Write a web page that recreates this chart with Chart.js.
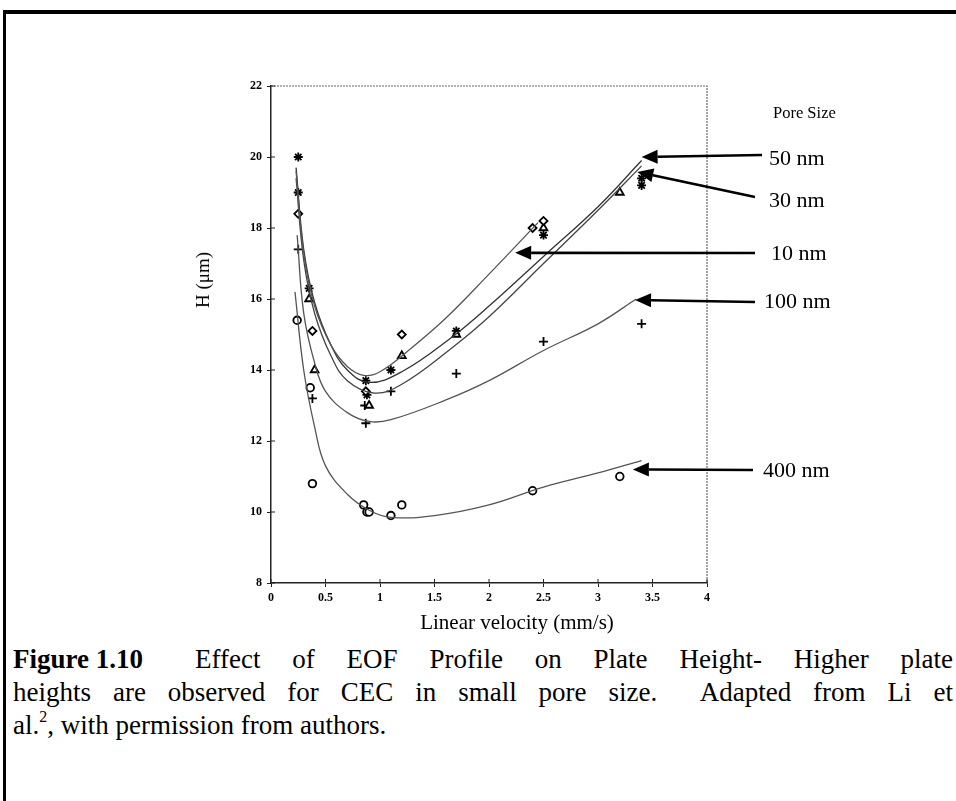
<!DOCTYPE html>
<html>
<head>
<meta charset="utf-8">
<script src="https://cdn.jsdelivr.net/npm/chart.js@4.4.1/dist/chart.umd.min.js"></script>
<style>
  body { margin: 0; background: #fff; width: 956px; height: 801px; overflow: hidden; position: relative; font-family: 'Liberation Serif', 'DejaVu Serif', serif; }
  #frame { position: absolute; left: 3px; top: 10px; width: 1000px; height: 900px; border-top: 4px solid #000; border-left: 3px solid #000; }
  #wrap { position: absolute; left: 0; top: 0; width: 956px; height: 640px; }
  .lbl { position: absolute; font-size: 22px; line-height: 24px; color: #000; white-space: nowrap; }
  #ytitle { position: absolute; left: 203px; top: 280px; font-size: 19px; transform: translate(-50%, -50%) rotate(-90deg); white-space: nowrap; }
  #xtitle { position: absolute; left: 517px; top: 622px; font-size: 21px; transform: translate(-50%, -50%); white-space: nowrap; }
  #caption { position: absolute; left: 13px; top: 643px; width: 940px; font-size: 27px; line-height: 33px; }
  #caption .j { text-align: justify; text-align-last: justify; }
  #caption .fig { display: inline-block; width: 182px; font-weight: bold; text-align: left; text-align-last: left; }
  #caption sup { font-size: 16px; line-height: 0; vertical-align: 0; position: relative; top: -12px; }
</style>
</head>
<body>
<div id="frame"></div>
<div id="wrap"><canvas id="chart" width="956" height="640"></canvas></div>
<div id="ytitle">H (μm)</div>
<div id="xtitle">Linear velocity (mm/s)</div>
<div class="lbl" style="left:773px;top:101px;font-size:16.5px">Pore Size</div>
<div class="lbl" style="left:769px;top:146px">50 nm</div>
<div class="lbl" style="left:769px;top:188px">30 nm</div>
<div class="lbl" style="left:771px;top:241px">10 nm</div>
<div class="lbl" style="left:764px;top:289px">100 nm</div>
<div class="lbl" style="left:763px;top:458px">400 nm</div>
<div id="caption">
  <div class="j"><span class="fig">Figure 1.10</span>Effect of EOF Profile on Plate Height- Higher plate</div>
  <div class="j">heights are observed for CEC in small pore size.&nbsp; Adapted from Li et</div>
  <div>al.<sup>2</sup>, with permission from authors.</div>
</div>

<script>
// measured points (velocity mm/s, plate height um)
const vel10 = [0.25, 0.38, 0.87, 1.2, 2.4, 2.5];
const h10 = [18.4, 15.1, 13.4, 15.0, 18.0, 18.2];

const vel30 = [0.35, 0.4, 0.9, 1.2, 1.7, 2.5, 3.2];
const h30 = [16.0, 14.0, 13.0, 14.4, 15.0, 18.0, 19.0];

const vel50 = [0.25, 0.25, 0.35, 0.87, 0.88, 1.1, 1.7, 2.5, 3.4, 3.4];
const h50 = [20.0, 19.0, 16.3, 13.7, 13.3, 14.0, 15.1, 17.8, 19.2, 19.4];

const vel100 = [0.25, 0.38, 0.86, 0.87, 1.1, 1.7, 2.5, 3.4];
const h100 = [17.4, 13.2, 13.0, 12.5, 13.4, 13.9, 14.8, 15.3];

const vel400 = [0.24, 0.36, 0.38, 0.85, 0.88, 0.9, 1.1, 1.2, 2.4, 3.2];
const h400 = [15.4, 13.5, 10.8, 10.2, 10.0, 10.0, 9.9, 10.2, 10.6, 11.0];

// fitted curves
const fitVel10 = [0.23, 0.3, 0.4, 0.55, 0.7, 0.85, 1.0, 1.3, 1.6, 2.0, 2.45];
const fitH10 = [19.6, 17.3, 15.8, 14.7, 14.1, 13.85, 13.95, 14.65, 15.45, 16.7, 18.15];

const fitVel50 = [0.23, 0.3, 0.4, 0.55, 0.7, 0.9, 1.2, 1.65, 2.0, 2.5, 3.0, 3.4];
const fitH50 = [19.7, 17.4, 15.9, 14.7, 14.0, 13.65, 13.95, 14.9, 15.8, 17.2, 18.6, 19.9];

const fitVel30 = [0.23, 0.3, 0.4, 0.55, 0.7, 0.95, 1.2, 1.65, 2.0, 2.5, 3.0, 3.4];
const fitH30 = [19.4, 17.1, 15.6, 14.4, 13.7, 13.35, 13.6, 14.6, 15.5, 17.0, 18.5, 19.75];

const fitVel100 = [0.24, 0.3, 0.4, 0.5, 0.7, 0.9, 1.1, 1.6, 2.0, 2.5, 3.0, 3.35];
const fitH100 = [17.8, 15.6, 14.2, 13.4, 12.8, 12.55, 12.6, 13.15, 13.7, 14.55, 15.3, 16.0];

const fitVel400 = [0.22, 0.3, 0.4, 0.5, 0.7, 0.9, 1.1, 1.5, 2.0, 2.5, 3.0, 3.4];
const fitH400 = [16.2, 14.0, 12.4, 11.3, 10.5, 10.05, 9.85, 9.9, 10.2, 10.7, 11.1, 11.45];

// arrow tips in data units
const arrowTipVel = [3.40, 3.36, 2.24, 3.34, 3.32];
const arrowTipH = [20.0, 19.58, 17.3, 15.97, 11.2];

// arrow tails (pixels)
const arrowTails = [[762, 155], [755, 197], [755, 253], [755, 302], [753, 470]];

function pts(xs, ys) {
    return xs.map((x, i) => ({x: x, y: ys[i]}));
}

function markers(label, xs, ys, style, radius) {
    return {
        label: label,
        data: pts(xs, ys),
        showLine: false,
        pointStyle: style,
        pointRadius: radius,
        pointBorderColor: '#000',
        pointBackgroundColor: '#fff',
        pointBorderWidth: 1.8
    };
}

function curve(label, xs, ys, color) {
    return {
        label: label,
        data: pts(xs, ys),
        showLine: true,
        borderColor: color,
        borderWidth: 1.3,
        pointRadius: 0,
        tension: 0.4,
        fill: false
    };
}

const framePlugin = {
    id: 'frame',
    afterDraw(chart) {
        const ctx = chart.ctx;
        const a = chart.chartArea;
        const xs = chart.scales.x;
        const ys = chart.scales.y;
        ctx.save();
        // dotted top/right border of plot box
        ctx.strokeStyle = '#666';
        ctx.lineWidth = 1.2;
        ctx.setLineDash([2, 1]);
        ctx.beginPath();
        ctx.moveTo(a.left, a.top);
        ctx.lineTo(a.right, a.top);
        ctx.lineTo(a.right, a.bottom);
        ctx.stroke();
        ctx.setLineDash([]);
        // inner tick marks
        ctx.strokeStyle = '#222';
        ctx.lineWidth = 1;
        ctx.beginPath();
        ys.ticks.forEach(t => {
            const py = ys.getPixelForValue(t.value);
            ctx.moveTo(a.left, py);
            ctx.lineTo(a.left + 4, py);
        });
        xs.ticks.forEach(t => {
            const px = xs.getPixelForValue(t.value);
            ctx.moveTo(px, a.bottom);
            ctx.lineTo(px, a.bottom - 4);
        });
        ctx.stroke();
        // arrows
        ctx.fillStyle = '#000';
        ctx.strokeStyle = '#000';
        ctx.lineWidth = 2.6;
        arrowTails.forEach((tail, i) => {
            const tx = xs.getPixelForValue(arrowTipVel[i]);
            const ty = ys.getPixelForValue(arrowTipH[i]);
            const ang = Math.atan2(tail[1] - ty, tail[0] - tx);
            const len = 16, half = 7;
            const bx = tx + Math.cos(ang) * len;
            const by = ty + Math.sin(ang) * len;
            ctx.beginPath();
            ctx.moveTo(bx, by);
            ctx.lineTo(tail[0], tail[1]);
            ctx.stroke();
            ctx.beginPath();
            ctx.moveTo(tx, ty);
            ctx.lineTo(bx - Math.sin(ang) * half, by + Math.cos(ang) * half);
            ctx.lineTo(bx + Math.sin(ang) * half, by - Math.cos(ang) * half);
            ctx.closePath();
            ctx.fill();
        });
        ctx.restore();
    }
};

const tickFont = {family: "'Liberation Serif', serif", size: 12, weight: 'bold'};

new Chart(document.getElementById('chart'), {
    type: 'scatter',
    data: {
        datasets: [
            curve('fit 10 nm', fitVel10, fitH10, '#555'),
            curve('fit 30 nm', fitVel30, fitH30, '#444'),
            curve('fit 50 nm', fitVel50, fitH50, '#333'),
            curve('fit 100 nm', fitVel100, fitH100, '#555'),
            curve('fit 400 nm', fitVel400, fitH400, '#555'),
            markers('10 nm', vel10, h10, 'rectRot', 4),
            markers('30 nm', vel30, h30, 'triangle', 4.5),
            markers('50 nm', vel50, h50, 'star', 4.5),
            markers('100 nm', vel100, h100, 'cross', 4.5),
            markers('400 nm', vel400, h400, 'circle', 3.8)
        ]
    },
    options: {
        responsive: false,
        animation: false,
        devicePixelRatio: 1,
        layout: {padding: {left: 0, top: 86, right: 249, bottom: 0}},
        plugins: {legend: {display: false}, tooltip: {enabled: false}},
        scales: {
            x: {
                type: 'linear',
                min: 0,
                max: 4,
                ticks: {stepSize: 0.5, color: '#000', font: tickFont, padding: 4, maxRotation: 0,
                        callback: v => String(v)},
                grid: {drawOnChartArea: false, drawTicks: true, tickLength: 4, color: '#222'},
                border: {color: '#222', width: 1.5},
                afterFit(scale) { scale.height = 57; }
            },
            y: {
                type: 'linear',
                min: 8,
                max: 22,
                ticks: {stepSize: 2, color: '#000', font: tickFont, padding: 5},
                grid: {drawOnChartArea: false, drawTicks: true, tickLength: 4, color: '#222'},
                border: {color: '#222', width: 1.5},
                afterFit(scale) { scale.width = 271; }
            }
        }
    },
    plugins: [framePlugin]
});
</script>
</body>
</html>
